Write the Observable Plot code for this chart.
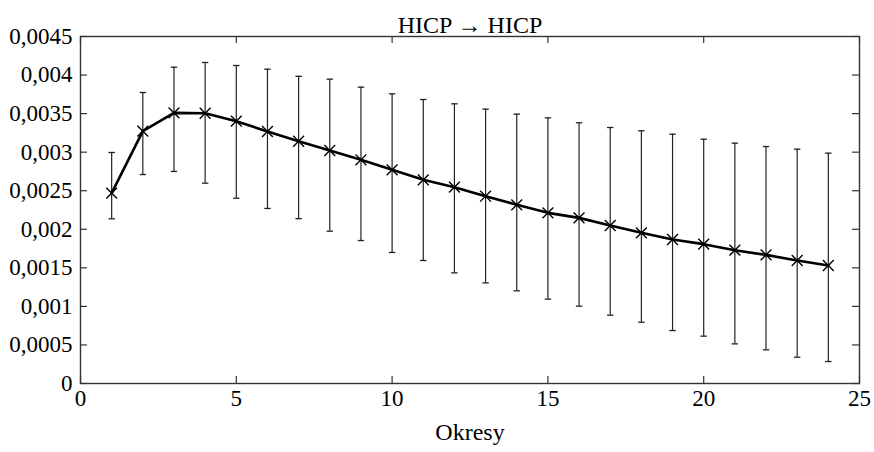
<!DOCTYPE html>
<html>
<head>
<meta charset="utf-8">
<script src="https://cdn.jsdelivr.net/npm/d3@7"></script>
<script src="https://cdn.jsdelivr.net/npm/@observablehq/plot@0.6"></script>
<style>
  html, body { margin: 0; padding: 0; background: #fff; }
</style>
</head>
<body>
<div id="chart"></div>
<script>
const title = "HICP \u2192 HICP";
const xLabel = "Okresy";
const periods = [1,2,3,4,5,6,7,8,9,10,11,12,13,14,15,16,17,18,19,20,21,22,23,24];
const mean = [0.002468,0.003272,0.00351,0.003505,0.003402,0.003268,0.003142,0.003022,0.002901,0.002771,0.002641,0.002546,0.002429,0.002317,0.002213,0.002148,0.002049,0.001954,0.001867,0.001807,0.001729,0.001668,0.001595,0.00153];
const upper = [0.002996,0.003774,0.004102,0.004163,0.004124,0.004076,0.003983,0.003947,0.003843,0.003756,0.003683,0.003627,0.003558,0.003493,0.003445,0.003381,0.00332,0.003277,0.003233,0.003168,0.003117,0.003073,0.003039,0.002987];
const lower = [0.002136,0.00271,0.00275,0.002598,0.002403,0.00227,0.002138,0.001975,0.001854,0.001699,0.001595,0.001435,0.001305,0.001202,0.001094,0.001003,0.000886,0.000795,0.000687,0.000614,0.000514,0.000437,0.000341,0.000285];
const xTicks = [0,5,10,15,20,25];
const xTickLabels = ["0","5","10","15","20","25"];
const yTicks = [0,0.0005,0.001,0.0015,0.002,0.0025,0.003,0.0035,0.004,0.0045];
const yTickLabels = ["0","0,0005","0,001","0,0015","0,002","0,0025","0,003","0,0035","0,004","0,0045"];

const data = periods.map((p, i) => ({x: p, y: mean[i], lo: lower[i], hi: upper[i]}));

const W = 874, H = 452;
const mL = 80, mR = 15, mT = 36, mB = 69;
const pw = W - mL - mR, ph = H - mT - mB;
const tl = 7;
const font = "'Liberation Serif', 'DejaVu Serif', serif";

const capSymbol = { draw(ctx, size) { ctx.moveTo(-3.2, 0); ctx.lineTo(3.2, 0); } };

const chart = Plot.plot({
  width: W,
  height: H,
  marginLeft: mL,
  marginRight: mR,
  marginTop: mT,
  marginBottom: mB,
  style: { fontFamily: font, fontSize: "23px", background: "#fff", color: "#000" },
  x: { domain: [0, 25] },
  y: { domain: [0, 0.0045] },
  marks: [
    Plot.axisX({ ticks: xTicks, tickSize: 0, tickPadding: 6, tickFormat: (d) => xTickLabels[xTicks.indexOf(d)], label: null, fontSize: 23, fill: "#000" }),
    Plot.axisY({ ticks: yTicks, tickSize: 0, tickPadding: 8, tickFormat: (d) => yTickLabels[yTicks.indexOf(d)], label: null, fontSize: 23, fill: "#000" }),
    // inward ticks
    Plot.tickY(yTicks, { y: d => d, insetRight: pw - tl, stroke: "#333", strokeWidth: 1.2 }),
    Plot.tickY(yTicks, { y: d => d, insetLeft: pw - tl, stroke: "#333", strokeWidth: 1.2 }),
    Plot.tickX(xTicks, { x: d => d, insetTop: ph - tl, stroke: "#333", strokeWidth: 1.2 }),
    Plot.tickX(xTicks, { x: d => d, insetBottom: ph - tl, stroke: "#333", strokeWidth: 1.2 }),
    Plot.frame({ stroke: "#333", strokeWidth: 1.4 }),
    // error bars
    Plot.ruleX(data, { x: "x", y1: "lo", y2: "hi", stroke: "#222", strokeWidth: 1.2 }),
    Plot.dot(data, { x: "x", y: "hi", symbol: capSymbol, r: 3, stroke: "#222", strokeWidth: 1.3, fill: "none" }),
    Plot.dot(data, { x: "x", y: "lo", symbol: capSymbol, r: 3, stroke: "#222", strokeWidth: 1.3, fill: "none" }),
    // mean line
    Plot.line(data, { x: "x", y: "y", stroke: "#000", strokeWidth: 2.6 }),
    Plot.dot(data, { x: "x", y: "y", symbol: "times", r: 5, stroke: "#000", strokeWidth: 1.4 }),
    // title & x label
    Plot.text([title], { text: d => d, frameAnchor: "top", dy: -21, fontSize: 24, fill: "#000" }),
    Plot.text([xLabel], { text: d => d, frameAnchor: "bottom", dy: 56, fontSize: 24, fill: "#000" })
  ]
});
document.getElementById("chart").appendChild(chart);
</script>
</body>
</html>
